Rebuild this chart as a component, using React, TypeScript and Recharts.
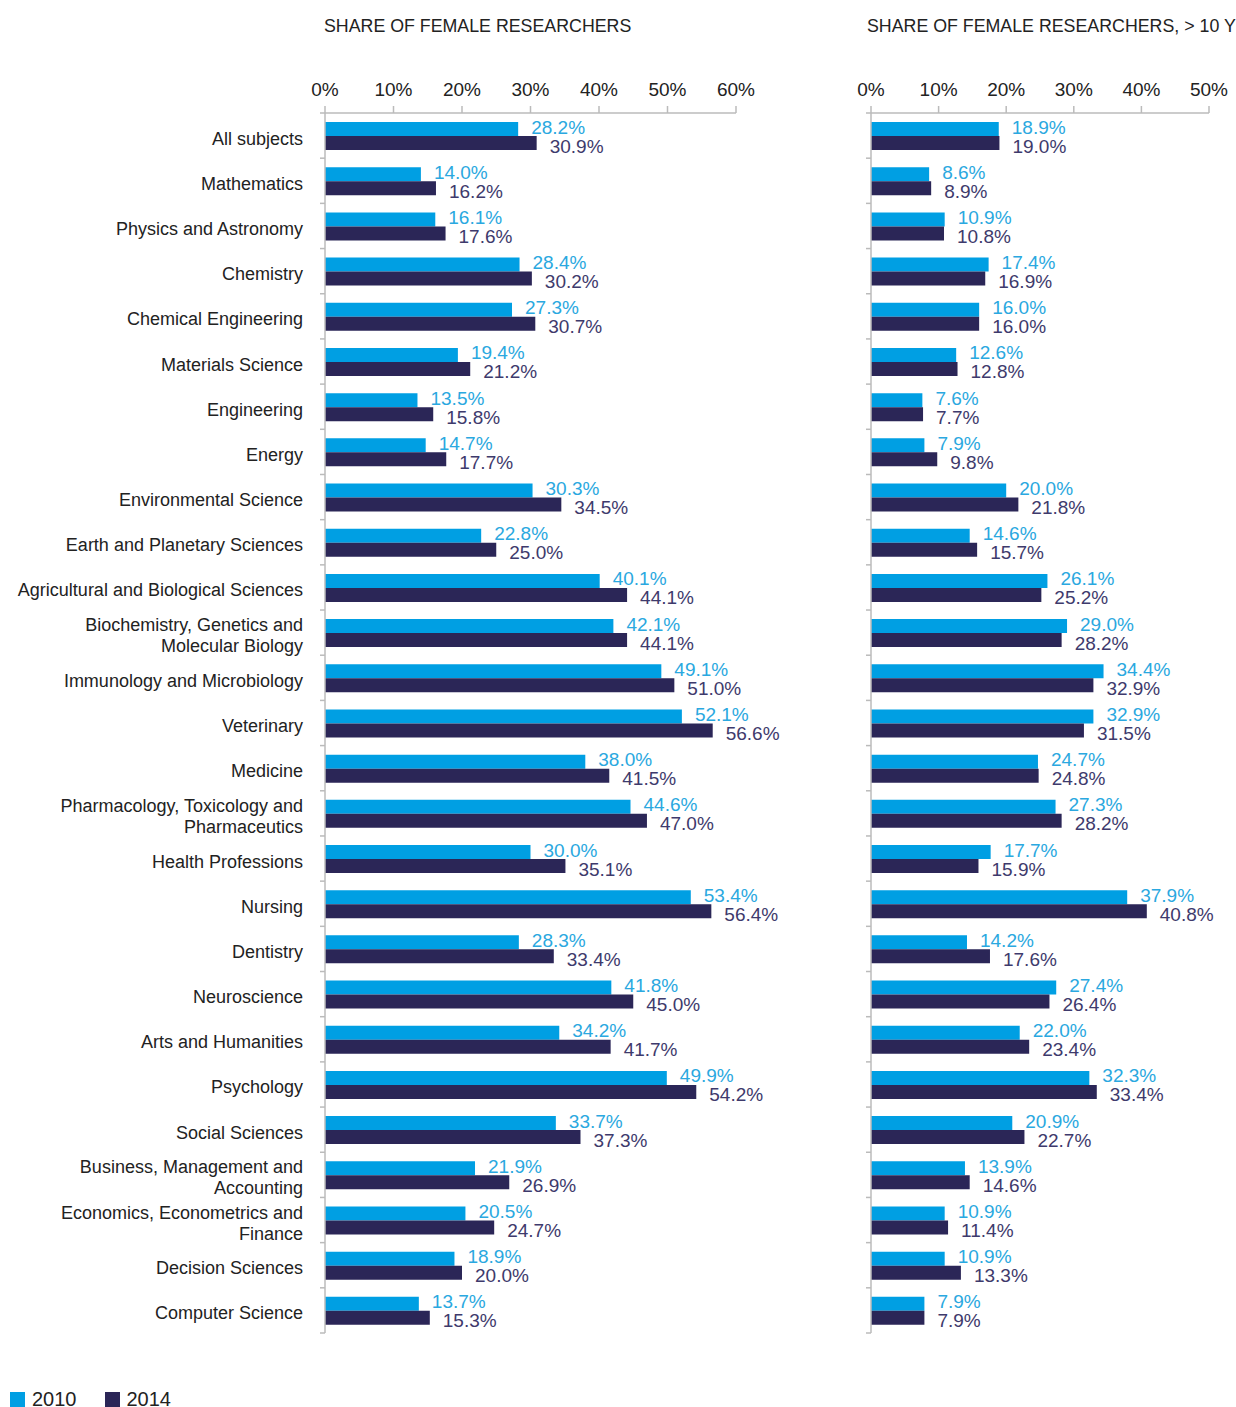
import React from 'react';
import { BarChart, Bar, XAxis, YAxis, LabelList } from 'recharts';

const categories = [
  'All subjects',
  'Mathematics',
  'Physics and Astronomy',
  'Chemistry',
  'Chemical Engineering',
  'Materials Science',
  'Engineering',
  'Energy',
  'Environmental Science',
  'Earth and Planetary Sciences',
  'Agricultural and Biological Sciences',
  'Biochemistry, Genetics and\nMolecular Biology',
  'Immunology and Microbiology',
  'Veterinary',
  'Medicine',
  'Pharmacology, Toxicology and\nPharmaceutics',
  'Health Professions',
  'Nursing',
  'Dentistry',
  'Neuroscience',
  'Arts and Humanities',
  'Psychology',
  'Social Sciences',
  'Business, Management and\nAccounting',
  'Economics, Econometrics and\nFinance',
  'Decision Sciences',
  'Computer Science',
];

const share2010 = [28.2, 14.0, 16.1, 28.4, 27.3, 19.4, 13.5, 14.7, 30.3, 22.8, 40.1, 42.1, 49.1, 52.1, 38.0, 44.6, 30.0, 53.4, 28.3, 41.8, 34.2, 49.9, 33.7, 21.9, 20.5, 18.9, 13.7];
const share2014 = [30.9, 16.2, 17.6, 30.2, 30.7, 21.2, 15.8, 17.7, 34.5, 25.0, 44.1, 44.1, 51.0, 56.6, 41.5, 47.0, 35.1, 56.4, 33.4, 45.0, 41.7, 54.2, 37.3, 26.9, 24.7, 20.0, 15.3];
const senior2010 = [18.9, 8.6, 10.9, 17.4, 16.0, 12.6, 7.6, 7.9, 20.0, 14.6, 26.1, 29.0, 34.4, 32.9, 24.7, 27.3, 17.7, 37.9, 14.2, 27.4, 22.0, 32.3, 20.9, 13.9, 10.9, 10.9, 7.9];
const senior2014 = [19.0, 8.9, 10.8, 16.9, 16.0, 12.8, 7.7, 9.8, 21.8, 15.7, 25.2, 28.2, 32.9, 31.5, 24.8, 28.2, 15.9, 40.8, 17.6, 26.4, 23.4, 33.4, 22.7, 14.6, 11.4, 13.3, 7.9];

const leftTicks = [0, 10, 20, 30, 40, 50, 60];
const rightTicks = [0, 10, 20, 30, 40, 50];
const years = ['2010', '2014'];

const leftData = categories.map((name, i) => ({ name, y2010: share2010[i], y2014: share2014[i] }));
const rightData = categories.map((name, i) => ({ name, y2010: senior2010[i], y2014: senior2014[i] }));

const C2010 = '#009FE3';
const C2014 = '#2B2657';
const L2010 = '#2AA8E0';
const L2014 = '#3E3A6C';
const AXIS = '#BBBBBB';
const FONT = '"Liberation Sans", Arial, sans-serif';

const CHART_H = 1343;
const MARGIN_TOP = 73;
const XAXIS_H = 40;
const MARGIN_BOTTOM = 10;
const PLOT_H = CHART_H - MARGIN_TOP - XAXIS_H - MARGIN_BOTTOM;
const BAND = PLOT_H / categories.length;

const makeYTick = (showText: boolean) => (props: any) => {
  const { x, y, payload } = props;
  const lines = String(payload.value).split('\n');
  const isLast = payload.value === categories[categories.length - 1];
  const lh = 21;
  const y0 = y - ((lines.length - 1) * lh) / 2 + 3;
  return (
    <g>
      <line x1={x - 5} x2={x} y1={y - BAND / 2} y2={y - BAND / 2} stroke={AXIS} strokeWidth={1.5} />
      {isLast && <line x1={x - 5} x2={x} y1={y + BAND / 2} y2={y + BAND / 2} stroke={AXIS} strokeWidth={1.5} />}
      {showText && (
        <text x={x - 22} y={y0} textAnchor="end" dominantBaseline="central" fontSize={18} fill="#222" fontFamily={FONT}>
          {lines.map((l, k) => (
            <tspan key={k} x={x - 22} y={y0 + k * lh}>{l}</tspan>
          ))}
        </text>
      )}
    </g>
  );
};

const makeValueLabel = (color: string, dy: number, dx: number) => (props: any) => {
  const vb = props.viewBox || props;
  const x = (props.x ?? vb.x) as number;
  const y = (props.y ?? vb.y) as number;
  const w = (props.width ?? vb.width) as number;
  const h = (props.height ?? vb.height) as number;
  const v = Number(props.value);
  return (
    <text x={x + w + dx} y={y + h / 2 + dy} dominantBaseline="central" fontSize={19} fill={color} fontFamily={FONT}>
      {v.toFixed(1) + '%'}
    </text>
  );
};

const LegendBox = () => (
  <div style={{ position: 'absolute', left: 10, top: 1388, display: 'flex', alignItems: 'center', fontFamily: FONT, fontSize: 20, color: '#222' }}>
    {years.map((yr, i) => (
      <div key={yr} style={{ display: 'flex', alignItems: 'center', marginRight: 28 }}>
        <div style={{ width: 15, height: 15, background: i === 0 ? C2010 : C2014, marginRight: 7 }} />
        <span>{yr}</span>
      </div>
    ))}
  </div>
);

const Panel = ({ data, domain, ticks, width, left, yWidth, marginRight, showText }: any) => (
  <div style={{ position: 'absolute', left, top: 0 }}>
    <BarChart
      width={width}
      height={CHART_H}
      data={data}
      layout="vertical"
      barCategoryGap="20%"
      barGap={0}
      margin={{ top: MARGIN_TOP, right: marginRight, bottom: MARGIN_BOTTOM, left: 0 }}
      style={{ overflow: 'visible' }}
    >
      <XAxis
        type="number"
        orientation="top"
        domain={domain}
        ticks={ticks}
        height={XAXIS_H}
        tickFormatter={(v: number) => `${v}%`}
        axisLine={{ stroke: AXIS, strokeWidth: 1.5 }}
        tickLine={{ stroke: AXIS, strokeWidth: 1.5 }}
        tickSize={7}
        tickMargin={10}
        tick={{ fontSize: 19, fill: '#222', fontFamily: FONT }}
        allowDataOverflow
      />
      <YAxis
        type="category"
        dataKey="name"
        width={yWidth}
        axisLine={{ stroke: AXIS, strokeWidth: 1.5 }}
        tickLine={false}
        tickSize={0}
        tickMargin={0}
        interval={0}
        tick={makeYTick(showText)}
      />
      <Bar dataKey="y2010" name="2010" fill={C2010} isAnimationActive={false}>
        <LabelList dataKey="y2010" content={makeValueLabel(L2010, -2, 13)} />
      </Bar>
      <Bar dataKey="y2014" name="2014" fill={C2014} isAnimationActive={false}>
        <LabelList dataKey="y2014" content={makeValueLabel(L2014, 3, 13)} />
      </Bar>
    </BarChart>
  </div>
);

export default function App() {
  return (
    <div style={{ position: 'absolute', left: 0, top: 0, width: 1236, height: 1407, overflow: 'hidden', background: '#fff', fontFamily: FONT }}>
      <div style={{ position: 'absolute', left: 324, top: 16, fontSize: 17.8, color: '#222', whiteSpace: 'nowrap' }}>
        SHARE OF FEMALE RESEARCHERS
      </div>
      <div style={{ position: 'absolute', left: 867, top: 16, fontSize: 17.8, color: '#222', whiteSpace: 'nowrap' }}>
        SHARE OF FEMALE RESEARCHERS, &gt; 10 YEARS
      </div>
      <Panel data={leftData} domain={[0, 60]} ticks={leftTicks} width={820} left={0} yWidth={325} marginRight={84} showText />
      <Panel data={rightData} domain={[0, 50]} ticks={rightTicks} width={386} left={850} yWidth={21} marginRight={27} showText={false} />
      <LegendBox />
    </div>
  );
}
